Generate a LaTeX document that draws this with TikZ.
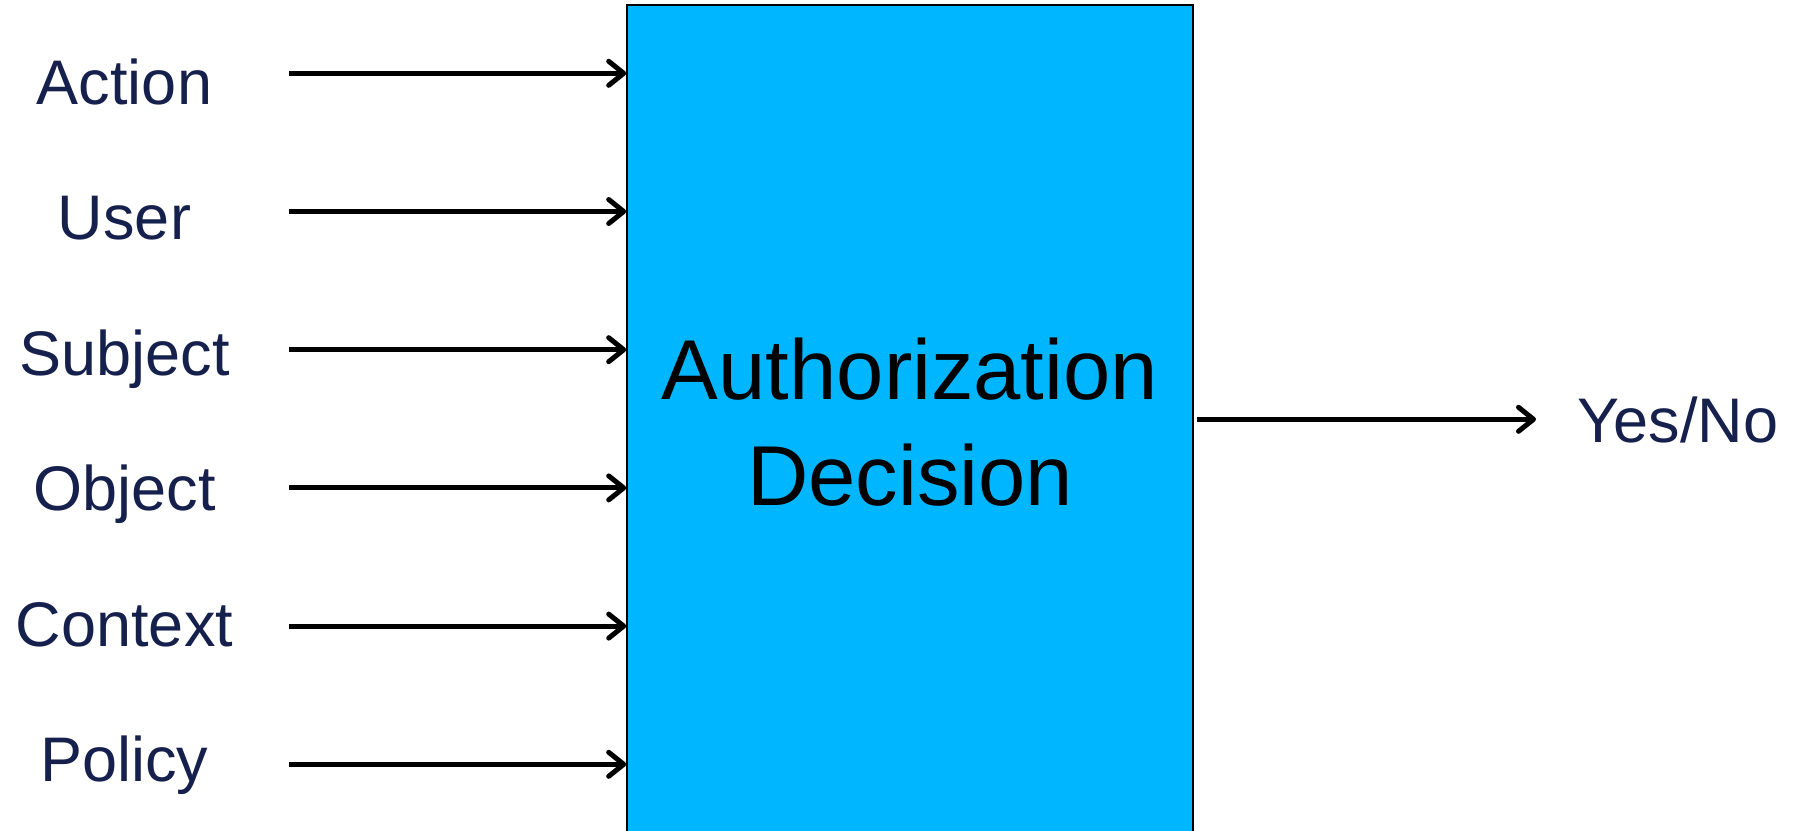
\documentclass[tikz,border=0pt]{standalone}
\usepackage{fontspec}
\setmainfont{Liberation Sans}
\usetikzlibrary{arrows.meta}

\definecolor{boxfill}{RGB}{0,183,255}
\definecolor{labelnavy}{RGB}{22,32,76}

\tikzset{
  inlabel/.style={anchor=base, inner sep=0pt, text=labelnavy,
    font=\fontsize{63}{75}\selectfont},
  decbox/.style={draw=black, line width=1.6pt, fill=boxfill, inner sep=0pt,
    minimum width=566pt, minimum height=835pt, align=center,
    font=\fontsize{85}{106}\selectfont},
  feed/.style={line width=5pt,
    -{Straight Barb[length=15pt,width=24pt,line cap=round,line join=round]}},
}

\begin{document}
\begin{tikzpicture}[x=1pt, y=-1pt]
  % page frame
  \clip (0,0) rectangle (1801,830);
  \fill[white] (0,0) rectangle (1801,830);

  % decision box, running off the bottom edge
  \node[decbox] (dec) at (910,422.5) {Authorization\\Decision};

  % inputs
  \node[inlabel] (action)  at (124.5,104.0) {Action};
  \node[inlabel] (user)    at (124.5,239.5) {User};
  \node[inlabel] (subject) at (124.5,375.0) {Subject};
  \node[inlabel] (object)  at (124.5,510.5) {Object};
  \node[inlabel] (context) at (124.5,646.0) {Context};
  \node[inlabel] (policy)  at (124.5,781.5) {Policy};

  \coordinate (inA) at (289,73.3);
  \coordinate (inU) at (289,211.5);
  \coordinate (inS) at (289,349.7);
  \coordinate (inO) at (289,487.9);
  \coordinate (inC) at (289,626.1);
  \coordinate (inP) at (289,764.3);

  \foreach \c in {inA,inU,inS,inO,inC,inP}
    \draw[feed] (\c) -- (\c -| dec.west);

  % output
  \node[inlabel, anchor=base west] (yes) at (1577,442.7) {Yes/No};
  \coordinate (outS) at (1197,419.3);
  \draw[feed] (outS) -- ([xshift=-41pt]outS -| yes.west);
\end{tikzpicture}
\end{document}
